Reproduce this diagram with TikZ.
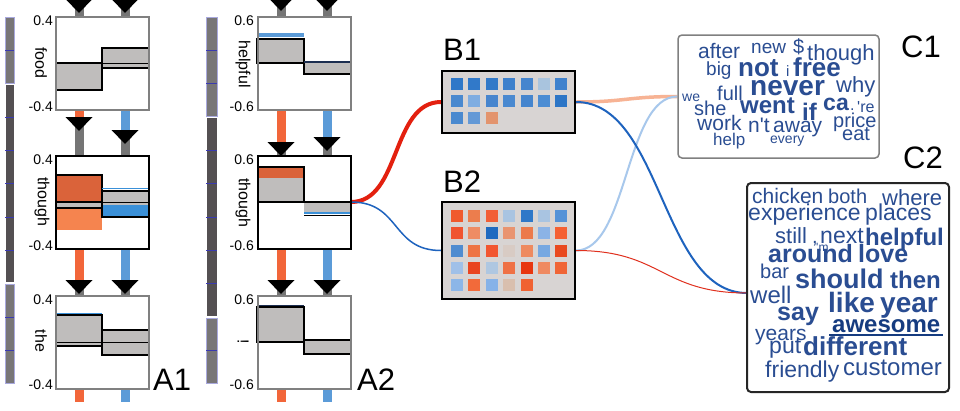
\documentclass[tikz,border=0pt]{standalone}
\usepackage{fontspec}
\setmainfont{Liberation Sans}
\newfontfamily\cloudfont{Liberation Sans}
\usetikzlibrary{backgrounds}
\definecolor{barg}{HTML}{BFBDBC}
\definecolor{stemO}{HTML}{F2663A}
\definecolor{stemB}{HTML}{5B9BD8}
\definecolor{stemG}{HTML}{757575}
\definecolor{dorange}{HTML}{DA633A}
\definecolor{lorange}{HTML}{F5844F}
\definecolor{mblue}{HTML}{3A90D8}
\definecolor{navy}{HTML}{1C2E50}
\definecolor{sideL}{HTML}{787677}
\definecolor{sideD}{HTML}{545052}
\definecolor{sideE}{HTML}{A9A9DE}
\definecolor{tickc}{HTML}{3A3AB0}
\definecolor{word}{HTML}{2A4D92}
\definecolor{wordd}{HTML}{163C80}
\definecolor{bfill}{HTML}{D8D4D3}
\definecolor{boxg}{HTML}{808080}
\definecolor{redc}{HTML}{E3200F}
\definecolor{peach}{HTML}{F7B394}
\definecolor{linkb}{HTML}{1E63BE}
\definecolor{lightb}{HTML}{A8C8EC}
\definecolor{thinred}{HTML}{E0301E}
\newcounter{wc}
\newcommand\cloudword[4]{\stepcounter{wc}\node[cw,font=\cloudfont\fontsize{#3}{#3}\selectfont] (w\arabic{wc}) at (#1,#2) {#4};}
\newcommand\cloudbold[4]{\stepcounter{wc}\node[cw,font=\cloudfont\fontsize{#3}{#3}\selectfont\bfseries] (w\arabic{wc}) at (#1,#2) {#4};}
% x, y0 (colour stem top), yt (triangle top), y1 (box top), colour
\newcommand\arrstem[5]{%
  \fill[#5] (#1-4.5,#2) rectangle (#1+4.5,#3);
  \fill[stemG] (#1-4.5,#3) rectangle (#1+4.5,#4);
  \fill[black] (#1-13.5,#3) -- (#1+13.5,#3) -- (#1,#3+14) -- cycle;}
\begin{document}
\begin{tikzpicture}[x=1pt,y=-1pt,
  abox/.style={draw=#1,line width=2pt,minimum width=93pt,minimum height=93pt,inner sep=0pt},
  bar/.style={fill=barg,draw=black,line width=1.6pt},
  axl/.style={anchor=east,inner sep=0pt,font=\fontsize{14}{14}\selectfont},
  rotl/.style={rotate=-90,inner sep=0pt,font=\fontsize{16}{16}\selectfont},
  big/.style={anchor=base west,inner sep=0pt,font=\fontsize{31}{31}\selectfont},
  bbox/.style={draw=black,fill=bfill,line width=2pt,inner sep=0pt},
  cw/.style={anchor=base west,inner sep=0pt,text=word}]
\useasboundingbox (0,0) rectangle (960,410);
\begin{scope}[on background layer]
\fill[white] (0,0) rectangle (960,410);
\end{scope}

% ---------- side bars ----------
\filldraw[fill=sideL,draw=sideE] (5,17) rectangle (14,83);
\filldraw[fill=sideD,draw=white] (5,84) rectangle (14,282);
\filldraw[fill=sideL,draw=sideE] (5,284) rectangle (14,383);
\foreach \y in {50,117,150,183,217,250,317,350} \draw[tickc] (5,\y) -- (14,\y);
\filldraw[fill=sideL,draw=sideE] (206,17) rectangle (217,116);
\filldraw[fill=sideD,draw=white] (206,117) rectangle (217,316);
\filldraw[fill=sideL,draw=sideE] (206,318) rectangle (217,383);
\foreach \y in {50,83,150,183,217,250,283,350} \draw[tickc] (206,\y) -- (217,\y);

% ---------- A1 stems and arrows ----------
\arrstem{79}{-1}{-1}{17}{stemG}
\arrstem{125}{-1}{-1}{17}{stemG}
\arrstem{79}{110}{117}{157}{stemO}
\arrstem{125}{110}{130}{157}{stemB}
\arrstem{79}{249}{280}{297}{stemO}
\arrstem{125}{249}{280}{297}{stemB}
\fill[stemO] (74.5,388) rectangle (83.5,402);
\fill[stemB] (120.5,388) rectangle (129.5,402);
% ---------- A2 stems and arrows ----------
\arrstem{281}{-3}{-3}{17}{stemG}
\arrstem{327}{-3}{-3}{17}{stemG}
\arrstem{281}{110}{142}{157}{stemO}
\arrstem{327}{110}{137}{157}{stemB}
\arrstem{281}{249}{280}{297}{stemO}
\arrstem{327}{249}{280}{297}{stemB}
\fill[stemO] (276.5,388) rectangle (285.5,402);
\fill[stemB] (322.5,388) rectangle (331.5,402);

% ---------- A1 bars ----------
% food
\filldraw[bar] (56,63) rectangle (102,90);
\filldraw[bar] (102,48) rectangle (149,68);
\draw[black,line width=0.8pt] (102,63) -- (149,63);
% though
\fill[dorange] (56,175) rectangle (102,202);
\fill[barg] (56,202) rectangle (102,208);
\fill[lorange] (56,208) rectangle (102,230);
\draw[black,line width=1.4pt] (56,175) -- (102,175) -- (102,208);
\draw[black,line width=1.4pt] (56,202) -- (102,202) (56,208) -- (102,208);
\draw[mblue,line width=1.5pt] (102,188.5) -- (149,188.5);
\fill[barg] (102,191) rectangle (149,205);
\fill[mblue] (102,205) rectangle (149,217);
\draw[black,line width=1.4pt] (102,191) rectangle (149,217);
\draw[black,line width=0.8pt] (102,202) -- (149,202);
% the
\draw[mblue,line width=1.5pt] (56,313.5) -- (102,313.5);
\filldraw[bar] (56,315) rectangle (102,346);
\draw[black,line width=0.8pt] (56,342) -- (102,342);
\filldraw[bar] (102,330) rectangle (149,355);
\draw[black,line width=0.8pt] (102,342) -- (149,342);

% ---------- A2 bars ----------
% helpful
\fill[stemB] (257,33) rectangle (304,37);
\filldraw[bar] (257,39) rectangle (304,63);
\filldraw[bar] (304,62) rectangle (351,74);
\draw[navy,line width=1.6pt] (304,62) -- (351,62);
% though
\fill[dorange] (257,168) rectangle (304,178);
\fill[barg] (257,178) rectangle (304,202);
\draw[black,line width=1.6pt] (257,167) -- (304,167) -- (304,202);
\fill[barg] (304,202) rectangle (351,213);
\draw[black,line width=1.6pt] (257,202) -- (351,202);
\draw[mblue,line width=1.6pt] (304,213) -- (351,213);
\draw[black,line width=0.8pt] (304,215) -- (351,215);
% !
\draw[navy,line width=1.6pt] (257,306) -- (304,306);
\filldraw[bar] (257,307) rectangle (304,342);
\filldraw[bar] (304,340) rectangle (351,354);

% ---------- A boxes ----------
\node[abox=boxg] (a1f) at (102.5,63.5) {};
\node[abox=black] (a1t) at (102.5,202.5) {};
\node[abox=boxg] (a1h) at (102.5,342) {};
\node[abox=boxg] (a2h) at (304,63.5) {};
\node[abox=black] (a2t) at (304,202.5) {};
\node[abox=boxg] (a2x) at (304,342) {};
\coordinate (a2out) at (351,202);

% axis labels
\foreach \t/\b [count=\k] in {20.5/107,159.5/246,299.5/385}{
  \node[axl] (l1t\k) at (53,\t) {0.4};
  \node[axl] (l1b\k) at (53,\b) {-0.4};
  \node[axl] (l2t\k) at (254,\t) {0.6};
  \node[axl] (l2b\k) at (254,\b) {-0.6};
}
\node[rotl] (r1) at (41,63) {food};
\node[rotl] (r2) at (42,202) {though};
\node[rotl] (r3) at (41,341) {the};
\node[rotl] (r4) at (243,64) {helpful};
\node[rotl] (r5) at (243,203) {though};
\node[rotl] (r6) at (243,342) {!};

\node[big] (lA1) at (153,390) {A1};
\node[big] (lA2) at (357,390) {A2};
\node[big] (lB1) at (443,60) {B1};
\node[big] (lB2) at (443,192) {B2};
\node[big] (lC1) at (901,57) {C1};
\node[big] (lC2) at (903,168) {C2};

% ---------- B boxes ----------
\node[bbox,minimum width=133pt,minimum height=62pt] (B1) at (508.5,102) {};
\node[bbox,minimum width=133pt,minimum height=97pt] (B2) at (508.5,250.5) {};
\foreach \c [count=\i from 0] in {2F78C8,3179C9,3279C8,3D80CC,4585CE,A9C4DE,4182CD,
  4A89CF,7FADE1,4785CE,4A89D0,4585CE,4D8DD3,2C75C6,
  4A89CF,6499D6,E3946E}{
  \pgfmathtruncatemacro\col{mod(\i,7)}
  \pgfmathtruncatemacro\row{div(\i,7)}
  \definecolor{sq}{HTML}{\c}
  \fill[sq] (451+17.4*\col,78+17*\row) rectangle ++(12,12);
}
\foreach \c [count=\i from 0] in {F05A2E,EC7D4D,F25E35,A9C4E1,2F78C8,A9C4E1,5592D7,
  F05430,EE8C64,1F6AC0,E99470,EC7A4B,8BB3E6,F56032,
  4F8CD0,EE7444,F25630,D8CBC4,EE8A5F,77A8E1,E9491F,
  A0C0E8,E94520,AFC7E1,EF7145,E8360F,EF8A61,F06536,
  8CB6E8,F26A3A,86B2E8,D9BFAE,F06232}{
  \pgfmathtruncatemacro\col{mod(\i,7)}
  \pgfmathtruncatemacro\row{div(\i,7)}
  \definecolor{sq}{HTML}{\c}
  \fill[sq] (451+17.4*\col,210+17.3*\row) rectangle ++(12,12);
}

% ---------- C boxes ----------
\node[draw=boxg,fill=white,line width=1.5pt,rounded corners=4pt,minimum width=201pt,minimum height=123pt,inner sep=0pt] (C1) at (778.5,96.5) {};
\node[draw=black!85,fill=white,line width=2pt,rounded corners=4pt,minimum width=202pt,minimum height=209pt,inner sep=0pt] (C2) at (848,287.5) {};
\coordinate (c2in) at (747,293);

% ---------- connectors ----------
\begin{scope}[on background layer]
\draw[redc,line width=4pt] (a2out) .. controls +(50,0) and +(-50,0) .. (B1.west);
\draw[linkb,line width=1.5pt] (a2out) .. controls +(50,0) and +(-50,0) .. (B2.west);
\draw[peach,line width=3.5pt] (B1.east) .. controls +(50,0) and +(-50,0) .. (C1.west);
\draw[lightb,line width=2pt] (B2.east) .. controls +(52,0) and +(-52,0) .. (C1.west);
\draw[linkb,line width=2pt] (B1.east) .. controls +(86,0) and +(-86,0) .. (c2in);
\draw[thinred,line width=1pt] (B2.east) .. controls +(86,0) and +(-86,0) .. (c2in);
\end{scope}

% ---------- C1 words ----------
\cloudword{698}{58}{21}{after}
\cloudword{751}{53}{19}{new}
\cloudword{793}{53}{20}{\$}
\cloudword{807}{60}{22}{though}
\cloudword{706}{75}{19}{big}
\cloudbold{738}{76}{26}{not}
\cloudword{786}{76}{15}{i}
\cloudbold{793}{76}{26}{free}
\cloudbold{750}{95}{28}{never}
\cloudword{836}{92}{22}{why}
\cloudword{717}{100}{20}{full}
\cloudword{682}{101}{14}{we}
\cloudword{694}{115}{20}{she}
\cloudbold{740}{113}{24}{went}
\cloudbold{802}{120}{24}{if}
\cloudbold{823}{110}{23}{ca}
\cloudword{850}{110}{16}{.}
\cloudword{857}{112}{16}{'re}
\cloudword{697}{130}{21}{work}
\cloudword{748}{132}{21}{n't}
\cloudword{773}{132}{21}{away}
\cloudword{833}{127}{20}{price}
\cloudword{842}{140}{20}{eat}
\cloudword{713}{145}{17}{help}
\cloudword{770}{143}{14}{every}

% ---------- C2 words ----------
\cloudword{752}{203}{21}{chicken}
\cloudword{828}{203}{20}{both}
\cloudword{882}{205}{22}{where}
\cloudword{748}{220}{23}{experience}
\cloudword{865}{220}{23}{places}
\cloudword{775}{243}{22}{still}
\cloudword{812}{243}{20}{,}
\cloudword{816}{251}{12}{'m}
\cloudword{820}{243}{23}{next}
\cloudbold{865}{245}{24}{helpful}
\cloudbold{768}{262}{25}{around}
\cloudbold{858}{262}{25}{love}
\cloudword{760}{278}{20}{bar}
\cloudbold{795}{288}{27}{should}
\cloudbold{890}{288}{24}{then}
\cloudword{750}{303}{24}{well}
\cloudbold{828}{312}{28}{like}
\cloudbold{880}{312}{28}{year}
\cloudbold{777}{320}{25}{say}
\stepcounter{wc}\node[cw,text=wordd,font=\cloudfont\fontsize{24}{24}\selectfont\bfseries] (aw) at (832,332) {awesome};
\draw[wordd,line width=1.3pt] (aw.base west) ++(-3,3) coordinate (ul1) -- ++(114,0) coordinate (ul2);
\cloudword{755}{340}{21}{years}
\cloudword{769}{353}{23}{put}
\cloudbold{803}{355}{26}{different}
\cloudword{765}{377}{23}{friendly}
\cloudword{843}{375}{24}{customer}
\end{tikzpicture}
\end{document}
